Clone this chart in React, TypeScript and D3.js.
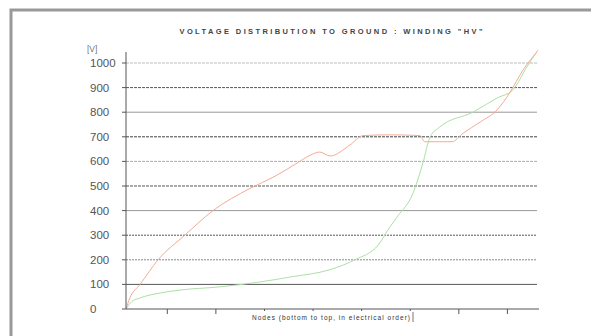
import React from "react";
import * as d3 from "d3";

// node index (bottom to top) and voltage
const orangeNodes = [1, 1.8, 3.9, 7.6, 13.1, 18.9, 26.5, 31.7, 36.2, 38.9, 40.9, 43, 47.1, 49.8, 55.3, 61.5, 62.5, 68.1, 70.4, 73.9, 77.4, 80, 82.7, 85.6];
const orangeValues = [0, 45, 100, 200, 300, 400, 490, 540, 593, 625, 638, 622, 667, 705, 708, 705, 680, 680, 715, 760, 810, 880, 971, 1045];

const greenNodes = [1, 2.2, 3.9, 8, 12.1, 20.3, 28.6, 34.8, 43, 48.1, 52.9, 55.3, 56.8, 60.1, 62.1, 63.6, 65.6, 72.4, 77.4, 80.6, 83.5, 85.8];
const greenValues = [0, 30, 45, 65, 77, 90, 110, 130, 160, 200, 260, 333, 374, 472, 593, 700, 740, 800, 858, 890, 984, 1053];

const yTicks = [0, 100, 200, 300, 400, 500, 600, 700, 800, 900, 1000];
const xTicks = [9.5, 19.5, 29.5, 39.5, 49.5, 59.5, 69.5, 79.5];

const title = 'VOLTAGE DISTRIBUTION TO GROUND :  WINDING "HV"';
const xTitle = "Nodes (bottom to top, in electrical order)";
const unit = "[V]";

// gridline look, from 0 up to 1000
const gridStyles = [
  { stroke: "#444", dash: "" },
  { stroke: "#555", dash: "" },
  { stroke: "#888", dash: "2,1" },
  { stroke: "#555", dash: "2,1" },
  { stroke: "#999", dash: "" },
  { stroke: "#555", dash: "3,1" },
  { stroke: "#aaa", dash: "3,1" },
  { stroke: "#444", dash: "3,1" },
  { stroke: "#999", dash: "" },
  { stroke: "#555", dash: "3,1" },
  { stroke: "#bbb", dash: "3,1" },
];

const width = 591;
const height = 336;
const left = 126;
const right = 539;
const top = 63;
const bottom = 309;

export default function App() {
  const x = d3.scaleLinear().domain([1, 86]).range([left, right]);
  const y = d3.scaleLinear().domain([0, 1000]).range([bottom, top]);

  const line = d3
    .line<[number, number]>()
    .x((d) => x(d[0]))
    .y((d) => y(d[1]))
    .curve(d3.curveMonotoneX);

  const orange = orangeNodes.map((n, i) => [n, orangeValues[i]] as [number, number]);
  const green = greenNodes.map((n, i) => [n, greenValues[i]] as [number, number]);

  return (
    <svg
      width={width}
      height={height}
      style={{ position: "absolute", left: 0, top: 0, background: "#fff" }}
      fontFamily="Arial, Liberation Sans, sans-serif"
    >
      <rect x={11} y={10} width={600} height={340} fill="#fff" stroke="#999" strokeWidth={3} />

      <text
        x={331}
        y={34}
        textAnchor="middle"
        fontSize={7.5}
        fontWeight="bold"
        fill="#444"
        textLength={303}
        lengthAdjust="spacing"
      >
        {title}
      </text>

      <text x={87} y={52} fontSize={8.5} fill="#777">
        {unit}
      </text>

      {yTicks.map((t, i) => (
        <g key={t}>
          {t > 0 && (
            <line
              x1={left}
              x2={right - 2}
              y1={y(t)}
              y2={y(t)}
              stroke={gridStyles[i].stroke}
              strokeWidth={1}
              strokeDasharray={gridStyles[i].dash}
            />
          )}
          <line x1={left - 4} x2={left} y1={y(t)} y2={y(t)} stroke="#555" />
          <text x={90} y={y(t) + 4} fontSize={11.5} fill="#555">
            {t}
          </text>
        </g>
      ))}

      <path d={line(green) ?? ""} fill="none" stroke="#ade0a6" strokeWidth={1} />
      <path d={line(orange) ?? ""} fill="none" stroke="#f3ab94" strokeWidth={1} />

      <line x1={left} x2={left} y1={52} y2={bottom} stroke="#555" />
      <line x1={left} x2={right} y1={bottom} y2={bottom} stroke="#555" />
      {xTicks.map((t) => (
        <line key={t} x1={x(t)} x2={x(t)} y1={bottom} y2={bottom + 5} stroke="#555" />
      ))}

      <rect x={250} y={311} width={163} height={11} fill="#fff" />
      <line x1={413} x2={413} y1={312} y2={322} stroke="#777" />
      <text x={252} y={319.5} fontSize={6.5} fill="#333" textLength={158} lengthAdjust="spacing">
        {xTitle}
      </text>
    </svg>
  );
}
